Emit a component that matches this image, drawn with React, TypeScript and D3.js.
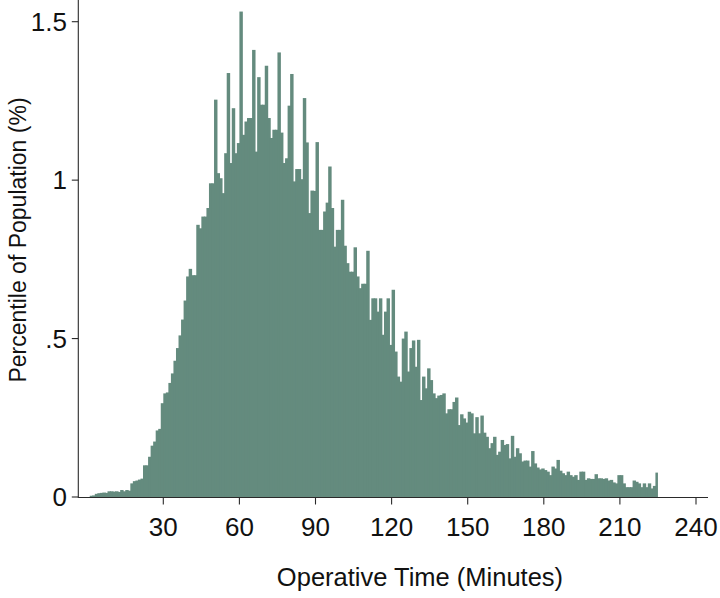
import React from "react";
import * as d3 from "d3";

// Histogram: 1-minute bins starting at minute 1
const binStart = 1;
const binWidth = 1;
const percent: number[] = [
  0.004, 0.005, 0.010, 0.012, 0.013, 0.014, 0.013, 0.018, 0.018, 0.017,
  0.018, 0.016, 0.022, 0.018, 0.022, 0.020, 0.043, 0.050, 0.052, 0.055,
  0.058, 0.100, 0.100, 0.127, 0.162, 0.175, 0.210, 0.215, 0.296, 0.327,
  0.330, 0.360, 0.390, 0.430, 0.470, 0.510, 0.560, 0.620, 0.696, 0.720,
  0.700, 0.700, 0.859, 0.848, 0.885, 0.885, 0.912, 0.990, 0.990, 1.254,
  1.022, 1.006, 0.959, 1.085, 1.338, 1.054, 1.227, 1.085, 1.117, 1.532,
  1.143, 1.185, 1.196, 1.196, 1.411, 1.090, 1.325, 1.238, 1.238, 1.361,
  1.196, 1.133, 1.159, 1.159, 1.403, 1.150, 1.054, 1.069, 1.235, 1.335,
  0.996, 1.035, 1.035, 1.003, 1.259, 1.119, 0.896, 0.967, 0.966, 1.120,
  0.843, 0.843, 0.901, 0.929, 1.043, 0.912, 0.790, 0.843, 0.843, 0.938,
  0.793, 0.738, 0.711, 0.711, 0.788, 0.696, 0.659, 0.673, 0.673, 0.777,
  0.559, 0.627, 0.627, 0.585, 0.627, 0.512, 0.585, 0.627, 0.480, 0.654,
  0.459, 0.380, 0.364, 0.500, 0.522, 0.396, 0.470, 0.494, 0.411, 0.496,
  0.306, 0.380, 0.343, 0.406, 0.369, 0.327, 0.312, 0.320, 0.322, 0.327,
  0.264, 0.277, 0.277, 0.300, 0.314, 0.227, 0.261, 0.248, 0.235, 0.269,
  0.264, 0.201, 0.252, 0.201, 0.257, 0.203, 0.190, 0.154, 0.170, 0.190,
  0.133, 0.143, 0.180, 0.164, 0.167, 0.122, 0.193, 0.127, 0.154, 0.138,
  0.112, 0.115, 0.115, 0.096, 0.145, 0.106, 0.093, 0.087, 0.090, 0.085,
  0.080, 0.069, 0.096, 0.090, 0.117, 0.083, 0.075, 0.069, 0.080, 0.069,
  0.064, 0.069, 0.054, 0.080, 0.080, 0.054, 0.059, 0.057, 0.057, 0.072,
  0.059, 0.059, 0.057, 0.059, 0.052, 0.054, 0.046, 0.043, 0.069, 0.069,
  0.043, 0.031, 0.031, 0.031, 0.052, 0.048, 0.043, 0.031, 0.043, 0.031,
  0.043, 0.027, 0.035, 0.077,
];

const xTicks = [30, 60, 90, 120, 150, 180, 210, 240];
const yTicks = [0, 0.5, 1, 1.5];
const yTickLabels = ["0", ".5", "1", "1.5"];
const xTitle = "Operative Time (Minutes)";
const yTitle = "Percentile of Population (%)";

const W = 720;
const H = 598;
const FONT = "'Liberation Sans', Arial, Helvetica, sans-serif";
const BAR = "#648b7e";
const AXIS = "#2a2a2a";

export default function App() {
  const x = d3.scaleLinear().domain([0, 240]).range([87.2, 696]);
  const y = d3.scaleLinear().domain([0, 1.5]).range([497, 21.7]);
  const axisX0 = 78.3;
  const axisX1 = 708;
  const bins = percent.map((v, i) => ({ x0: binStart + i * binWidth, x1: binStart + (i + 1) * binWidth, v }));

  return (
    <svg
      width={W}
      height={H}
      style={{ position: "absolute", left: 0, top: 0, background: "#fff" }}
      fontFamily={FONT}
    >
      <rect x={0} y={0} width={W} height={H} fill="#fff" />
      <g>
        {bins.map((b, i) => (
          <rect
            key={i}
            x={x(b.x0)}
            y={y(b.v)}
            width={x(b.x1) - x(b.x0) + (i === bins.length - 1 ? 0 : 0.9)}
            height={y(0) - y(b.v)}
            fill={BAR}
          />
        ))}
      </g>
      {/* x axis */}
      <line x1={axisX0} x2={axisX1} y1={y(0) + 0.5} y2={y(0) + 0.5} stroke={AXIS} strokeWidth={1.1} />
      {xTicks.map((t) => (
        <g key={t}>
          <line x1={x(t)} x2={x(t)} y1={y(0) + 0.5} y2={y(0) + 7.5} stroke={AXIS} strokeWidth={1.1} />
          <text x={x(t)} y={536} textAnchor="middle" fontSize={26} fill="#111">
            {t}
          </text>
        </g>
      ))}
      {/* y axis */}
      <line x1={axisX0} x2={axisX0} y1={0} y2={y(0) + 1} stroke={AXIS} strokeWidth={1.1} />
      {yTicks.map((t, i) => (
        <g key={t}>
          <line x1={axisX0 - 6.5} x2={axisX0} y1={y(t)} y2={y(t)} stroke={AXIS} strokeWidth={1.1} />
          <text x={67} y={y(t)} dy="0.35em" textAnchor="end" fontSize={26} fill="#111">
            {yTickLabels[i]}
          </text>
        </g>
      ))}
      <text x={420} y={586} textAnchor="middle" fontSize={25.5} fill="#111">
        {xTitle}
      </text>
      <text
        transform={`translate(26, 240) rotate(-90)`}
        textAnchor="middle"
        fontSize={23}
        fill="#111"
      >
        {yTitle}
      </text>
    </svg>
  );
}
